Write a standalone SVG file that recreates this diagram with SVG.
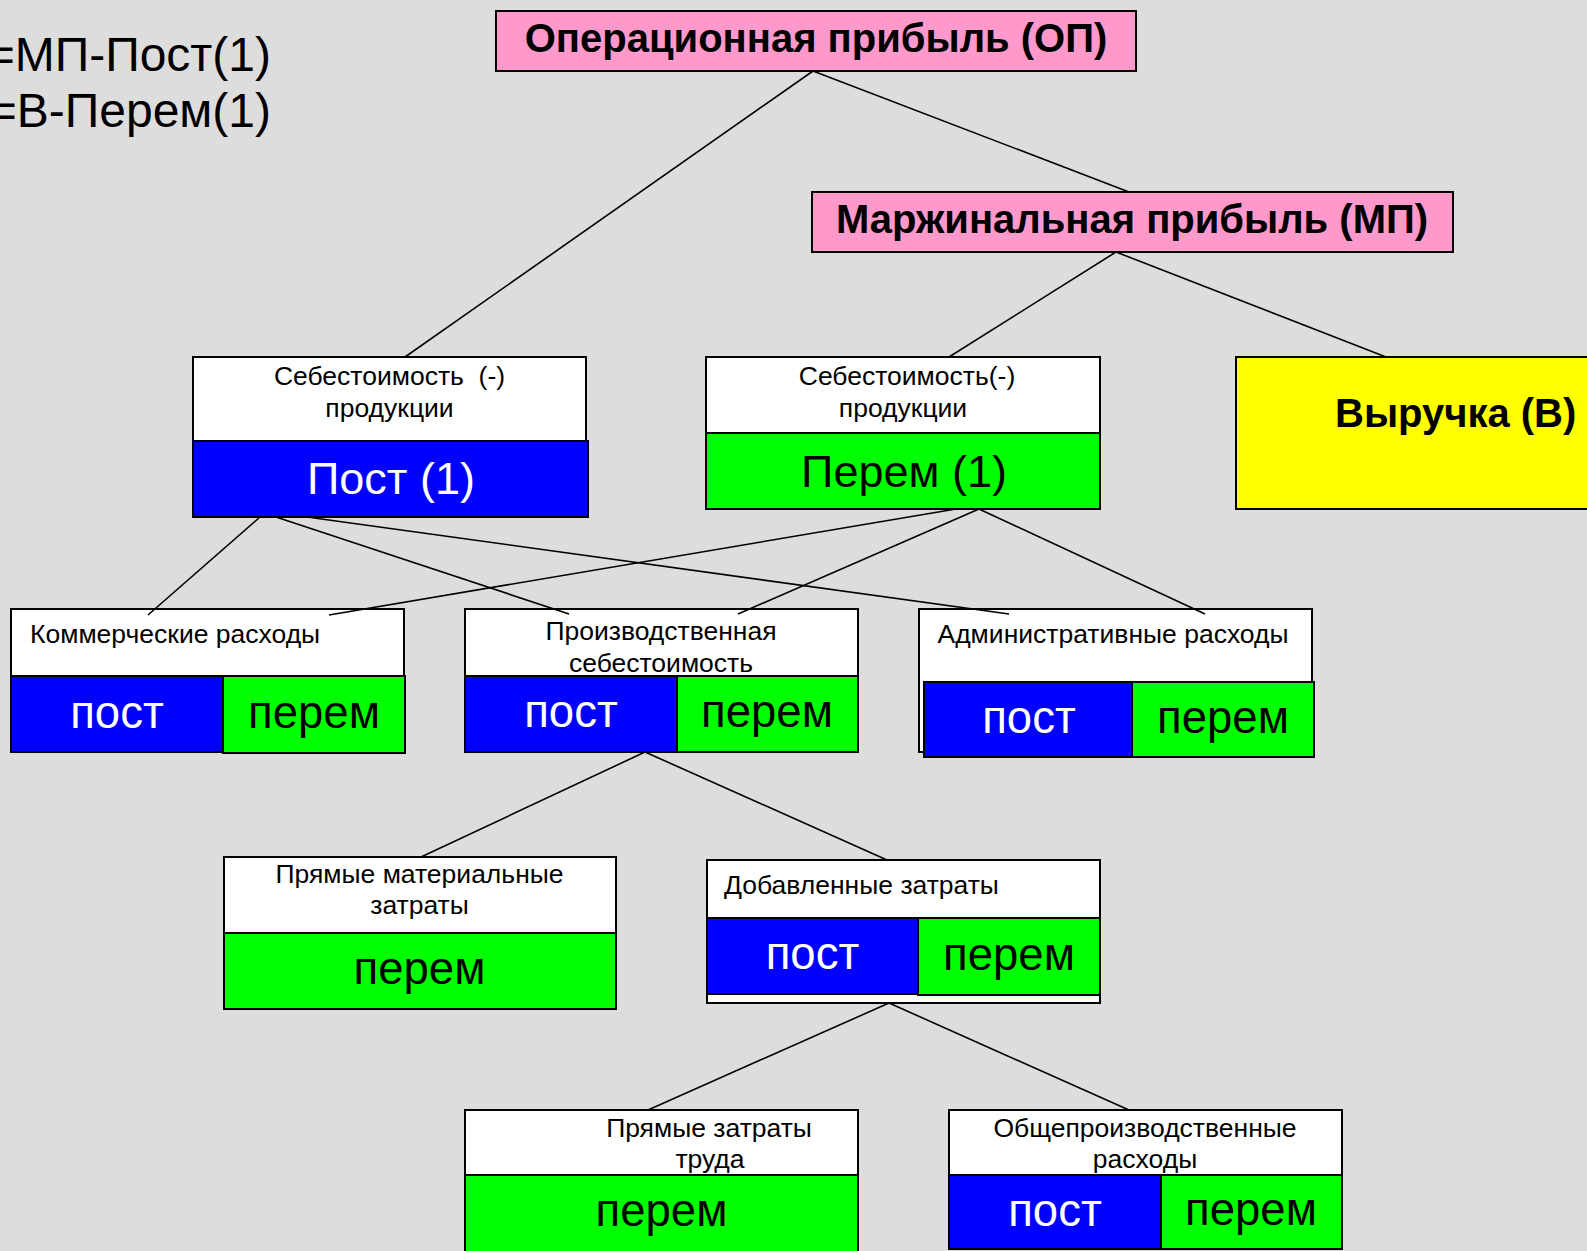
<svg xmlns="http://www.w3.org/2000/svg" width="1587" height="1251" viewBox="0 0 1587 1251">
  <style>
    text { font-family: "Liberation Sans", Arial, sans-serif; }
    .box { stroke: #000; stroke-width: 2; }
    .white { fill: #FFFFFF; }
    .blue { fill: #0000FF; }
    .green { fill: #00FF00; }
    .pink { fill: #FF99CC; }
    .yellow { fill: #FFFF00; }
    .hdr { font-size: 40px; font-weight: bold; fill: #000; }
    .lbl { font-size: 26.5px; fill: #000; }
    .big { font-size: 45px; }
    .pc { font-size: 45.5px; }
    .wt { fill: #FFFFFF; }
    .bk { fill: #000; }
    .mid { text-anchor: middle; }
    .formula { font-size: 48px; fill: #000; text-anchor: end; }
    .conn line { stroke: #000; stroke-width: 1.6; }
  </style>

  <rect x="0" y="0" width="1587" height="1251" fill="#DDDDDD"/>

  <!-- formulas (run off the left edge of the sheet) -->
  <g id="formulas">
    <text class="formula" x="271" y="71">=МП-Пост(1)</text>
    <text class="formula" x="271" y="127">=В-Перем(1)</text>
  </g>

  <!-- operating profit -->
  <g id="op">
    <rect class="box pink" x="496" y="11" width="640" height="60"/>
    <text class="hdr mid" x="816" y="52">Операционная прибыль (ОП)</text>
  </g>

  <!-- marginal profit -->
  <g id="mp">
    <rect class="box pink" x="812" y="192" width="641" height="60"/>
    <text class="hdr mid" x="1132" y="233">Маржинальная прибыль (МП)</text>
  </g>

  <!-- fixed production cost -->
  <g id="cost-fixed">
    <rect class="box white" x="193" y="357" width="393" height="84"/>
    <text class="lbl mid" x="389.5" y="385">Себестоимость&#160; (-)</text>
    <text class="lbl mid" x="389.5" y="417">продукции</text>
    <rect class="box blue" x="193" y="441" width="395" height="76"/>
    <text class="big wt mid" x="391" y="494">Пост (1)</text>
  </g>

  <!-- variable production cost -->
  <g id="cost-var">
    <rect class="box white" x="706" y="357" width="394" height="76"/>
    <text class="lbl mid" x="907" y="385">Себестоимость(-)</text>
    <text class="lbl mid" x="903" y="417">продукции</text>
    <rect class="box green" x="706" y="433" width="394" height="76"/>
    <text class="big bk mid" x="904" y="487">Перем (1)</text>
  </g>

  <!-- revenue -->
  <g id="revenue">
    <rect class="box yellow" x="1236" y="357" width="370" height="152"/>
    <text class="hdr" x="1335" y="427">Выручка (В)</text>
  </g>

  <!-- selling expenses -->
  <g id="selling">
    <rect class="box white" x="11" y="609" width="393" height="67"/>
    <text class="lbl" x="30" y="643">Коммерческие расходы</text>
    <rect class="box blue" x="11" y="676" width="212" height="76"/>
    <rect class="box green" x="223" y="676" width="182" height="77"/>
    <text class="pc wt mid" x="117" y="728">пост</text>
    <text class="pc bk mid" x="314" y="728">перем</text>
  </g>

  <!-- production cost -->
  <g id="production">
    <rect class="box white" x="465" y="609" width="393" height="67"/>
    <text class="lbl mid" x="661" y="640">Производственная</text>
    <text class="lbl mid" x="661" y="672">себестоимость</text>
    <rect class="box blue" x="465" y="676" width="212" height="76"/>
    <rect class="box green" x="677" y="676" width="181" height="76"/>
    <text class="pc wt mid" x="571" y="727">пост</text>
    <text class="pc bk mid" x="767" y="727">перем</text>
  </g>

  <!-- administrative expenses -->
  <g id="admin">
    <rect class="box white" x="919" y="609" width="393" height="143"/>
    <text class="lbl mid" x="1113" y="643">Административные расходы</text>
    <rect class="box blue" x="924" y="682" width="208" height="75"/>
    <rect class="box green" x="1132" y="682" width="182" height="75"/>
    <text class="pc wt mid" x="1029" y="733">пост</text>
    <text class="pc bk mid" x="1223" y="733">перем</text>
  </g>

  <!-- direct materials -->
  <g id="materials">
    <rect class="box white" x="224" y="857" width="392" height="76"/>
    <text class="lbl mid" x="419.5" y="883">Прямые материальные</text>
    <text class="lbl mid" x="419.5" y="914">затраты</text>
    <rect class="box green" x="224" y="933" width="392" height="76"/>
    <text class="pc bk mid" x="419.5" y="984">перем</text>
  </g>

  <!-- value added -->
  <g id="added">
    <rect class="box white" x="707" y="860" width="393" height="143"/>
    <text class="lbl" x="724" y="894">Добавленные затраты</text>
    <rect class="box blue" x="707" y="918" width="211" height="76"/>
    <rect class="box green" x="918" y="918" width="182" height="77"/>
    <text class="pc wt mid" x="812.5" y="969">пост</text>
    <text class="pc bk mid" x="1009" y="970">перем</text>
  </g>

  <!-- direct labour -->
  <g id="labour">
    <rect class="box white" x="465" y="1110" width="393" height="65"/>
    <text class="lbl mid" x="709" y="1137">Прямые затраты</text>
    <text class="lbl mid" x="710" y="1168">труда</text>
    <rect class="box green" x="465" y="1175" width="393" height="90"/>
    <text class="pc bk mid" x="661.5" y="1226">перем</text>
  </g>

  <!-- overheads -->
  <g id="overhead">
    <rect class="box white" x="949" y="1110" width="393" height="65"/>
    <text class="lbl mid" x="1145" y="1137">Общепроизводственные</text>
    <text class="lbl mid" x="1145" y="1168">расходы</text>
    <rect class="box blue" x="949" y="1175" width="212" height="74"/>
    <rect class="box green" x="1161" y="1175" width="181" height="74"/>
    <text class="pc wt mid" x="1055" y="1226">пост</text>
    <text class="pc bk mid" x="1251" y="1225">перем</text>
  </g>

  <!-- tree connectors -->
  <g id="connectors" class="conn">
    <line x1="813" y1="71" x2="405" y2="357"/>
    <line x1="813" y1="71" x2="1129" y2="192"/>
    <line x1="1116" y1="252" x2="949" y2="357"/>
    <line x1="1116" y1="252" x2="1386" y2="357"/>
    <line x1="260" y1="517" x2="148" y2="615"/>
    <line x1="276" y1="517" x2="569" y2="614"/>
    <line x1="307" y1="517" x2="1009" y2="614"/>
    <line x1="956" y1="509" x2="329" y2="615"/>
    <line x1="979" y1="509" x2="738" y2="614"/>
    <line x1="979" y1="509" x2="1205" y2="614"/>
    <line x1="645" y1="752" x2="421" y2="857"/>
    <line x1="645" y1="752" x2="887" y2="860"/>
    <line x1="889" y1="1003" x2="648" y2="1110"/>
    <line x1="889" y1="1003" x2="1129" y2="1110"/>
  </g>
</svg>
